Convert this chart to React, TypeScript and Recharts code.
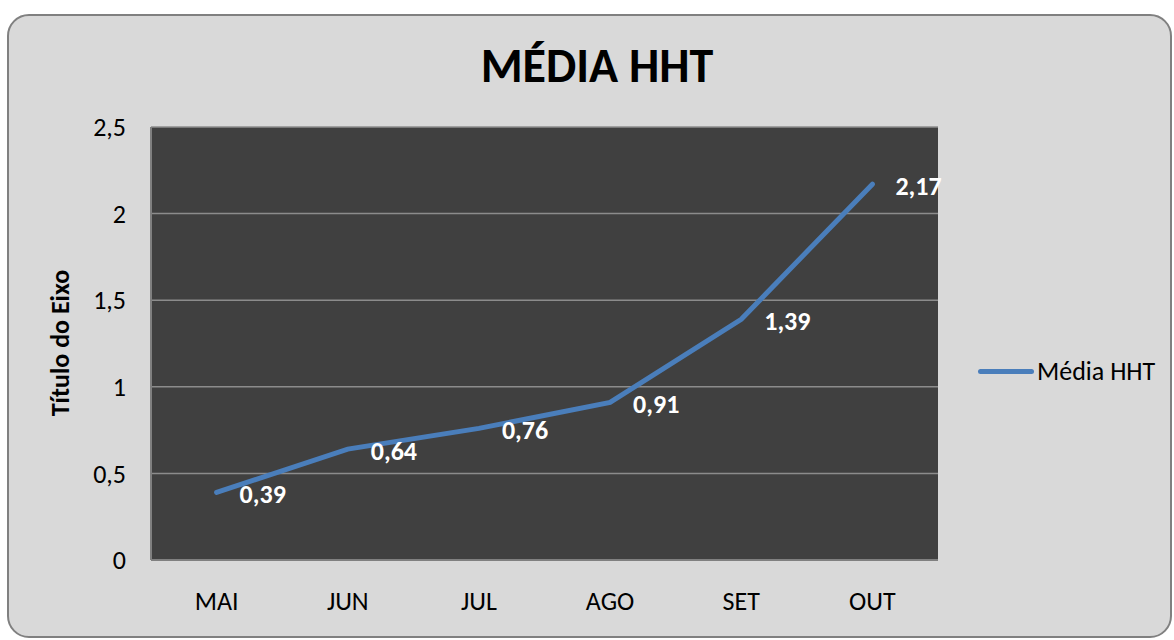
import React from 'react';
import {
  LineChart,
  Line,
  XAxis,
  YAxis,
  CartesianGrid,
  LabelList,
} from 'recharts';

const months = ['MAI', 'JUN', 'JUL', 'AGO', 'SET', 'OUT'];
const mediaHHT = [0.39, 0.64, 0.76, 0.91, 1.39, 2.17];
const yTicks = [0, 0.5, 1, 1.5, 2, 2.5];

const data = months.map((m, i) => ({ mes: m, valor: mediaHHT[i] }));

const FONT = 'Carlito, Calibri, Lato, "Open Sans", sans-serif';
const fmt = (v: any) => (typeof v === 'number' ? String(v).replace('.', ',') : v);

// Excel-style "right" data label: white bold, to the right of the point
const renderLabel = (props: any) => {
  const { x, y, value } = props;
  return (
    <text
      x={x + 23}
      y={y + 2}
      fill="#ffffff"
      fontSize={26}
      fontWeight={700}
      fontFamily={FONT}
      dominantBaseline="central"
    >
      {fmt(value)}
    </text>
  );
};

const App: React.FC = () => {
  return (
    <div style={{ position: 'absolute', left: 0, top: 0, width: 1174, height: 640, background: '#ffffff' }}>
      <div
        style={{
          position: 'absolute',
          left: 7,
          top: 14,
          width: 1161,
          height: 620,
          border: '2px solid #808080',
          borderRadius: 22,
          background: '#d9d9d9',
        }}
      />
      <div
        style={{
          position: 'absolute',
          left: 0,
          top: 40,
          width: 1194,
          textAlign: 'center',
          fontFamily: FONT,
          fontWeight: 700,
          fontSize: 48,
          lineHeight: '52px',
          color: '#000',
        }}
      >
        MÉDIA HHT
      </div>
      <div
        style={{
          position: 'absolute',
          left: 60,
          top: 343,
          transform: 'translate(-50%, -50%) rotate(-90deg)',
          fontFamily: FONT,
          fontWeight: 700,
          fontSize: 26,
          whiteSpace: 'nowrap',
          color: '#000',
        }}
      >
        Título do Eixo
      </div>
      {/* legend, drawn outside the chart so it takes no room from the plot */}
      <div
        style={{
          position: 'absolute',
          left: 978,
          top: 356,
          display: 'flex',
          alignItems: 'center',
          fontFamily: FONT,
          fontSize: 26,
          color: '#000',
          lineHeight: '30px',
        }}
      >
        <div style={{ width: 56, height: 5, background: '#4a7ebb', borderRadius: 3, marginRight: 3 }} />
        <span>Média HHT</span>
      </div>
      <div style={{ position: 'absolute', left: 0, top: 0 }}>
        <LineChart
          width={1174}
          height={640}
          data={data}
          margin={{ top: 127, right: 236, left: 91, bottom: 40 }}
        >
          <CartesianGrid fill="#404040" stroke="#8c8c8c" strokeWidth={1.5} vertical={false} />
          <XAxis
            dataKey="mes"
            height={40}
            padding={{ left: 65.6, right: 65.6 }}
            tickLine={false}
            axisLine={{ stroke: '#808080', strokeWidth: 2 }}
            tick={{ fill: '#000', fontSize: 26, fontFamily: FONT }}
            dy={24}
          />
          <YAxis
            width={60}
            domain={[0, 2.5]}
            ticks={yTicks}
            tickFormatter={fmt}
            tickLine={false}
            axisLine={{ stroke: '#808080', strokeWidth: 2 }}
            tick={{ fill: '#000', fontSize: 26, fontFamily: FONT }}
            dx={-17}
          />
          <Line
            type="linear"
            dataKey="valor"
            name="Média HHT"
            stroke="#4a7ebb"
            strokeWidth={5}
            strokeLinecap="round"
            dot={false}
            activeDot={false}
            isAnimationActive={false}
          >
            <LabelList dataKey="valor" content={renderLabel} />
          </Line>
        </LineChart>
      </div>
    </div>
  );
};

export default App;
